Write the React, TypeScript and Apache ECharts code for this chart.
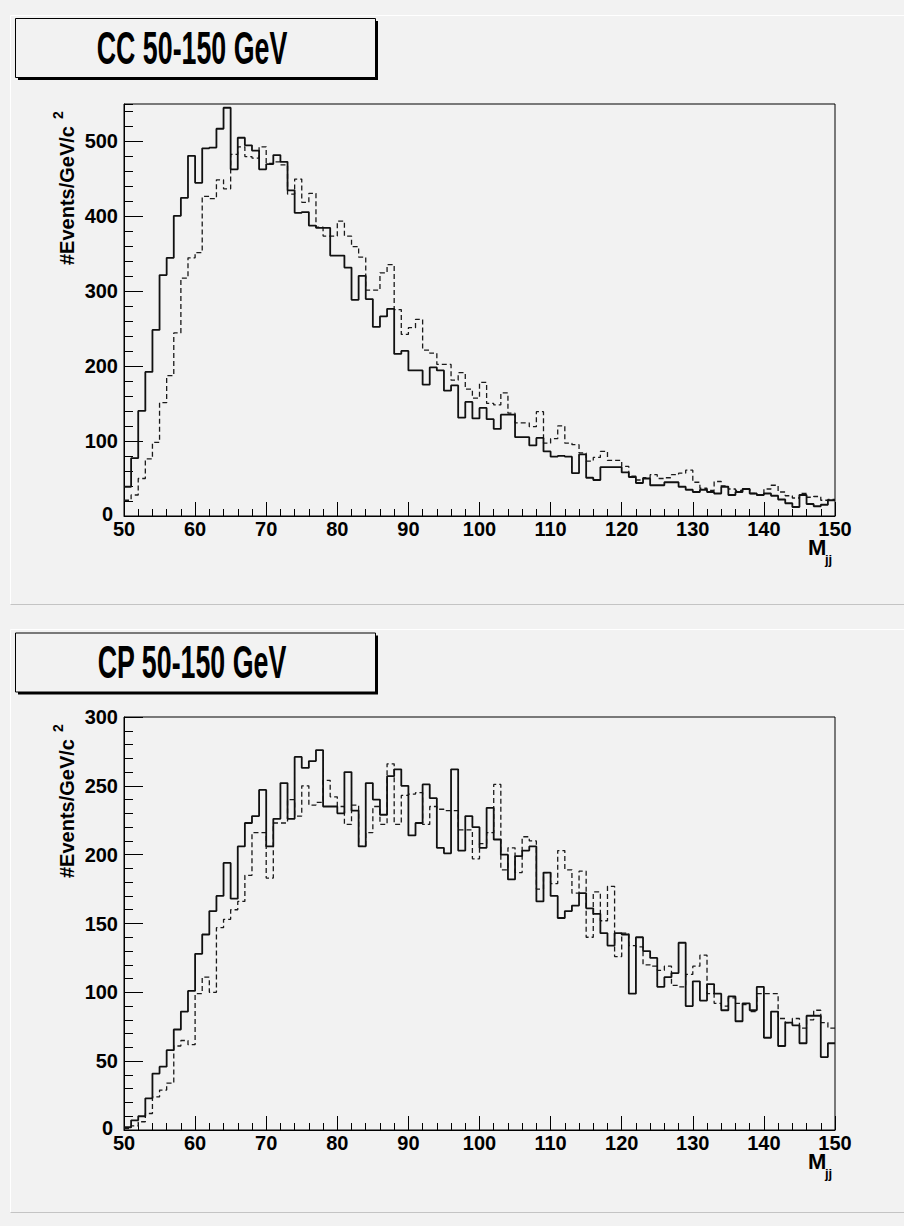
import React, { useEffect, useRef } from "react";
import * as echarts from "echarts";

const FONT = "'Liberation Sans', Arial, Helvetica, sans-serif";

const X_MIN = 50;
const X_MAX = 150;
const BIN = 1;

const topTitle = "CC 50-150 GeV";
const bottomTitle = "CP 50-150 GeV";
const yTitle = "#Events/GeV/c";
const yTitleSup = "2";
const xTitle = "M";
const xTitleSub = "jj";

// CC panel, solid histogram (events per 1 GeV bin, 50..150)
const ccSolid = [
  39, 77, 140, 192, 248, 321, 344, 400, 424, 480,
  444, 490, 491, 516, 544, 462, 504, 494, 487, 462,
  469, 481, 472, 434, 404, 405, 387, 384, 384, 347,
  347, 331, 288, 320, 289, 252, 266, 276, 216, 220,
  194, 194, 175, 198, 194, 167, 174, 131, 152, 130,
  144, 129, 116, 135, 135, 105, 105, 94, 104, 86,
  79, 80, 79, 57, 82, 51, 48, 65, 65, 65,
  58, 52, 44, 50, 41, 41, 45, 45, 39, 35,
  32, 35, 32, 30, 39, 28, 32, 36, 30, 28,
  30, 27, 22, 17, 12, 28, 16, 13, 15, 21,
];

// CC panel, dashed histogram
const ccDashed = [
  21, 28, 50, 76, 98, 151, 187, 244, 317, 344,
  351, 426, 423, 448, 436, 482, 492, 479, 477, 492,
  470, 472, 468, 429, 449, 418, 430, 385, 373, 373,
  393, 373, 359, 345, 301, 301, 324, 335, 275, 242,
  251, 262, 221, 217, 202, 202, 181, 191, 169, 157,
  178, 150, 148, 164, 137, 124, 124, 119, 139, 97,
  103, 120, 97, 95, 84, 73, 78, 86, 74, 74,
  66, 53, 48, 51, 55, 50, 51, 55, 57, 61,
  45, 37, 34, 46, 40, 36, 34, 36, 30, 28,
  36, 41, 32, 27, 24, 30, 25, 26, 21, 22,
];

// CP panel, solid histogram
const cpSolid = [
  2, 7, 10, 23, 41, 46, 58, 73, 86, 101,
  128, 142, 159, 170, 194, 168, 206, 223, 228, 247,
  206, 226, 252, 226, 271, 263, 268, 276, 235, 235,
  230, 260, 232, 206, 252, 240, 229, 257, 262, 250,
  214, 223, 251, 241, 205, 201, 262, 203, 228, 220,
  205, 234, 211, 200, 182, 199, 203, 206, 166, 187,
  170, 154, 159, 163, 172, 161, 157, 143, 134, 143,
  142, 99, 140, 130, 125, 104, 111, 114, 136, 90,
  108, 94, 106, 99, 87, 97, 79, 92, 87, 104,
  67, 86, 61, 78, 76, 63, 83, 83, 53, 63,
];

// CP panel, dashed histogram
const cpDashed = [
  1, 3, 6, 12, 24, 29, 34, 61, 65, 62,
  99, 111, 100, 147, 153, 160, 166, 185, 216, 216,
  183, 223, 223, 240, 228, 250, 236, 238, 254, 242,
  235, 222, 236, 206, 216, 235, 222, 266, 222, 243,
  244, 245, 222, 235, 233, 232, 232, 218, 218, 197,
  208, 216, 251, 189, 205, 187, 213, 210, 175, 187,
  179, 203, 189, 172, 188, 140, 173, 152, 177, 126,
  143, 134, 133, 120, 119, 116, 119, 105, 104, 113,
  119, 127, 99, 92, 90, 96, 92, 91, 86, 99,
  99, 99, 81, 78, 81, 74, 80, 87, 78, 74,
];

const ccYMax = 549;
const ccYInterval = 100;
const ccYMinorInterval = 20;
const cpYMax = 300;
const cpYInterval = 50;
const xInterval = 10;

function toSteps(vals: number[]) {
  const pts = vals.map((v, i) => [X_MIN + i * BIN, v]);
  pts.push([X_MIN + vals.length * BIN, vals[vals.length - 1]]);
  return pts;
}

const BLACK = "#000000";

function xAxisFor(gridIndex: number) {
  return {
    type: "value",
    gridIndex,
    min: X_MIN,
    max: X_MAX,
    interval: xInterval,
    axisLine: { show: true, onZero: false, lineStyle: { color: BLACK, width: 1 } },
    axisTick: { show: true, inside: true, length: 14, lineStyle: { color: BLACK, width: 1 } },
    minorTick: { show: true, splitNumber: 5, length: 7, lineStyle: { color: BLACK, width: 1 } },
    axisLabel: {
      color: BLACK,
      fontSize: 20,
      fontWeight: "bold",
      fontFamily: FONT,
      margin: 6,
      lineHeight: 14,
    },
    splitLine: { show: false },
    minorSplitLine: { show: false },
  };
}

function histSeries(vals: number[], idx: number, dashed: boolean) {
  return {
    type: "line",
    xAxisIndex: idx,
    yAxisIndex: idx === 0 ? 0 : 2,
    step: "end",
    symbol: "none",
    silent: true,
    data: toSteps(vals),
    lineStyle: dashed
      ? { color: "#1a1a1a", width: 1.3, type: [5, 3] }
      : { color: "#111111", width: 1.8, type: "solid" },
    z: dashed ? 3 : 4,
  };
}

function panelGraphics(dy: number, title: string, frameDy: number, frameBottom: number) {
  const boxX = 15;
  const boxY = 18 + dy;
  const boxW = 360;
  const boxH = 59;
  return [
    {
      type: "rect",
      z: 5,
      shape: { x: boxX + 3, y: boxY + 3, width: boxW, height: boxH },
      style: { fill: "#000000" },
    },
    {
      type: "rect",
      z: 6,
      shape: { x: boxX + 0.5, y: boxY + 0.5, width: boxW, height: boxH },
      style: { fill: "#f2f2f2", stroke: "#000000", lineWidth: 1 },
    },
    {
      type: "text",
      z: 7,
      x: 192,
      y: 47 + dy,
      scaleX: 0.57,
      style: {
        text: title,
        fontSize: 47,
        fontWeight: "bold",
        fontFamily: FONT,
        fill: "#000000",
        textAlign: "center",
        textVerticalAlign: "middle",
      },
    },
    {
      type: "text",
      z: 7,
      x: 67,
      y: 265 + frameDy,
      rotation: Math.PI / 2,
      style: {
        text: yTitle,
        fontSize: 20,
        fontWeight: "bold",
        fontFamily: FONT,
        fill: "#000000",
        textAlign: "left",
        textVerticalAlign: "middle",
      },
    },
    {
      type: "text",
      z: 7,
      x: 58,
      y: 119 + frameDy,
      rotation: Math.PI / 2,
      style: {
        text: yTitleSup,
        fontSize: 14,
        fontWeight: "bold",
        fontFamily: FONT,
        fill: "#000000",
        textAlign: "left",
        textVerticalAlign: "middle",
      },
    },
    {
      type: "text",
      z: 7,
      x: 808,
      y: frameBottom + 31,
      style: {
        text: xTitle,
        fontSize: 22,
        lineHeight: 18,
        fontWeight: "bold",
        fontFamily: FONT,
        fill: "#000000",
        textAlign: "left",
        textVerticalAlign: "middle",
      },
    },
    {
      type: "text",
      z: 7,
      x: 825,
      y: frameBottom + 43,
      style: {
        text: xTitleSub,
        fontSize: 13,
        lineHeight: 12,
        fontWeight: "bold",
        fontFamily: FONT,
        fill: "#000000",
        textAlign: "left",
        textVerticalAlign: "middle",
      },
    },
  ];
}

function padBorders(top: number, bottom: number) {
  return [
    { type: "line", z: 1, shape: { x1: 10.5, y1: top + 0.5, x2: 904, y2: top + 0.5 }, style: { stroke: "#ffffff", lineWidth: 1 } },
    { type: "line", z: 1, shape: { x1: 10.5, y1: top + 0.5, x2: 10.5, y2: bottom + 0.5 }, style: { stroke: "#ffffff", lineWidth: 1 } },
    { type: "line", z: 1, shape: { x1: 10.5, y1: bottom + 0.5, x2: 904, y2: bottom + 0.5 }, style: { stroke: "#c4c4c4", lineWidth: 1 } },
  ];
}

export default function App() {
  const ref = useRef<HTMLDivElement>(null);

  useEffect(() => {
    if (!ref.current) return;
    const chart = echarts.init(ref.current, undefined, { renderer: "svg" });

    const yLabel = {
      color: BLACK,
      fontSize: 20,
      fontWeight: "bold",
      fontFamily: FONT,
      margin: 6,
      lineHeight: 12,
      formatter: (v: number) => (v === 0 ? "{z|0}" : String(v)),
      rich: {
        z: {
          color: BLACK,
          fontSize: 20,
          fontWeight: "bold",
          fontFamily: FONT,
          lineHeight: 12,
          padding: [0, 5, 4, 0],
        },
      },
    };

    const option: any = {
      animation: false,
      backgroundColor: "#f2f2f2",
      grid: [
        { left: 124, top: 104, width: 711, height: 412, show: true, borderColor: BLACK, borderWidth: 1, backgroundColor: "transparent" },
        { left: 124, top: 717, width: 711, height: 413, show: true, borderColor: BLACK, borderWidth: 1, backgroundColor: "transparent" },
      ],
      xAxis: [xAxisFor(0), xAxisFor(1)],
      yAxis: [
        {
          type: "value",
          gridIndex: 0,
          position: "left",
          min: 0,
          max: ccYMax,
          interval: ccYInterval,
          axisLine: { show: true, onZero: false, lineStyle: { color: BLACK, width: 1 } },
          axisTick: { show: true, inside: true, length: 19, lineStyle: { color: BLACK, width: 1 } },
          axisLabel: { ...yLabel, showMaxLabel: false },
          splitLine: { show: false },
        },
        {
          type: "value",
          gridIndex: 0,
          position: "left",
          min: 0,
          max: ccYMax,
          interval: ccYMinorInterval,
          axisLine: { show: false },
          axisTick: { show: true, inside: true, length: 9, lineStyle: { color: BLACK, width: 1 } },
          axisLabel: { show: false },
          splitLine: { show: false },
        },
        {
          type: "value",
          gridIndex: 1,
          position: "left",
          min: 0,
          max: cpYMax,
          interval: cpYInterval,
          axisLine: { show: true, onZero: false, lineStyle: { color: BLACK, width: 1 } },
          axisTick: { show: true, inside: true, length: 19, lineStyle: { color: BLACK, width: 1 } },
          minorTick: { show: true, splitNumber: 5, length: 9, lineStyle: { color: BLACK, width: 1 } },
          axisLabel: yLabel,
          splitLine: { show: false },
        },
      ],
      series: [
        histSeries(ccDashed, 0, true),
        histSeries(ccSolid, 0, false),
        histSeries(cpDashed, 1, true),
        histSeries(cpSolid, 1, false),
      ],
      graphic: [
        ...padBorders(15, 604),
        ...padBorders(629, 1212),
        ...panelGraphics(0, topTitle, 0, 516),
        ...panelGraphics(614.5, bottomTitle, 613, 1130),
      ],
    };

    chart.setOption(option);
    return () => {
      chart.dispose();
    };
  }, []);

  return (
    <div
      ref={ref}
      style={{ position: "absolute", left: 0, top: 0, width: 904, height: 1226 }}
    />
  );
}
